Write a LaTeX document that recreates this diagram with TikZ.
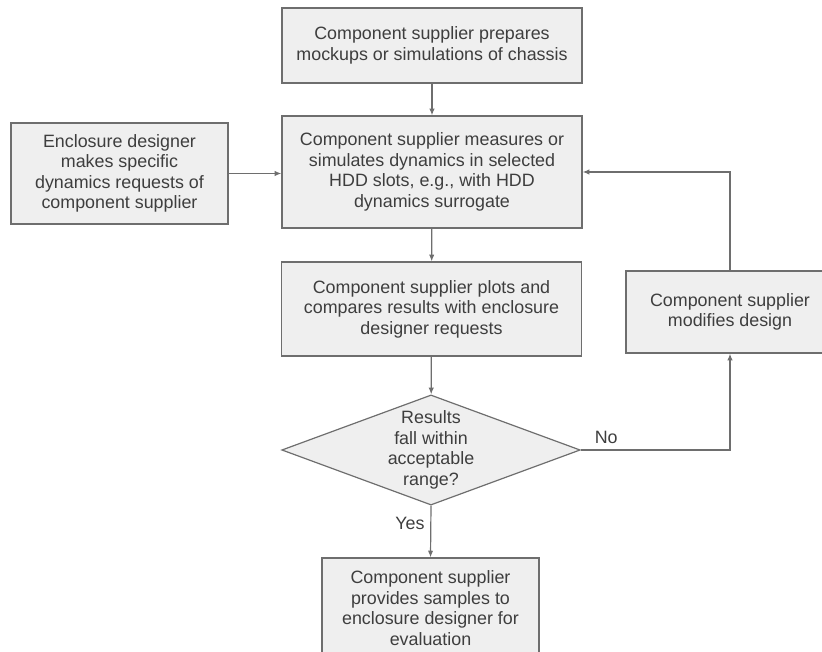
\documentclass[tikz,border=0pt]{standalone}
\usepackage{fontspec}
\setmainfont{Liberation Sans}
\usepackage{tikz}
\usetikzlibrary{shapes.geometric,arrows.meta}

\definecolor{boxfill}{HTML}{EFEFEF}
\definecolor{edgegray}{HTML}{6E6E6E}
\definecolor{inkgray}{HTML}{3E3E3E}

\begin{document}
\begin{tikzpicture}[x=0.75pt,y=-0.75pt,
    stepbox/.style={draw=edgegray,fill=boxfill,line width=0.9pt,align=center,
      text=inkgray,inner sep=2pt,font=\fontsize{13.4}{15.4}\selectfont},
    decision/.style={stepbox,diamond,aspect=2.71,inner sep=0pt,
      minimum width=223.5pt,minimum height=82.5pt},
    flow/.style={draw=edgegray,line width=0.9pt,-{Latex[length=5pt,width=4pt]}},
    answer/.style={text=inkgray,font=\fontsize{13.4}{15.4}\selectfont}]
        \useasboundingbox (0,0) rectangle (822,652);

        % ---- boxes -------------------------------------
        \node[stepbox,minimum width=225pt,minimum height=56.25pt] (prep) at (432,45.5)
          {Component supplier prepares\\mockups or simulations of chassis};
        \node[stepbox,minimum width=225pt,minimum height=84pt] (measure) at (432,172)
          {Component supplier measures or\\simulates dynamics in selected\\HDD slots, e.g., with HDD\\dynamics surrogate};
        \node[stepbox,minimum width=162.75pt,minimum height=75.75pt] (request) at (119.5,173.5)
          {Enclosure designer\\makes specific\\dynamics requests of\\component supplier};
        \node[stepbox,minimum width=225pt,minimum height=70.5pt] (plots) at (431.5,309)
          {Component supplier plots and\\compares results with enclosure\\designer requests};
        \node[decision] (check) at (431,450)
          {Results\\fall within\\acceptable\\range?};
        \node[stepbox,minimum width=162.75pt,minimum height=75pt] (samples) at (430.5,608)
          {Component supplier\\provides samples to\\enclosure designer for\\evaluation};
        \node[stepbox,minimum width=156pt,minimum height=61.5pt] (modify) at (730,312)
          {Component supplier\\modifies design};

        % ---- main flow ---------------------------------
        \draw[flow] (prep) -- (measure);
        \draw[flow] (request.east) -- (request.east -| measure.west);
        \draw[flow] (measure) -- (plots);
        \draw[flow] (plots) -- (check);
        \draw[flow] (check.south) -- node[answer,left=1pt,pos=0.35] (yes) {Yes} (samples.north);

        % ---- loop back on "No" -------------------------
        \draw[flow] (check.east) -- node[answer,above=1pt,pos=0.17] (no) {No} (check.east -| modify.south) -- (modify.south);
        \draw[flow] (modify.north) |- (measure.east);
    \end{tikzpicture}
\end{document}
